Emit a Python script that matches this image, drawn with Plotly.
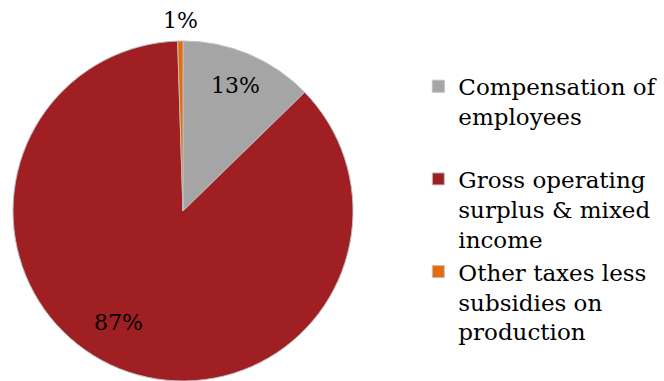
import math
import plotly.graph_objects as go

# Shares of GDP by income component (percent)
categories = [
    "Compensation of<br>employees<br> ",
    "Gross operating<br>surplus & mixed<br>income",
    "Other taxes less<br>subsidies on<br>production",
]
shares = [12.7, 86.8, 0.5]
colors = ["#A5A5A5", "#A01F22", "#E46C0A"]

W, H = 664, 381
FONT = "DejaVu Serif"

# Pie geometry in pixels
cx, cy, R = 183, 211, 170

fig = go.Figure(
    go.Pie(
        labels=categories,
        values=shares,
        sort=False,
        direction="clockwise",
        rotation=0,
        textinfo="none",
        hoverinfo="label+percent",
        marker=dict(colors=colors, line=dict(color="#BEBEBE", width=1)),
        domain=dict(x=[(cx - R) / W, (cx + R) / W],
                    y=[(H - cy - R) / H, (H - cy + R) / H]),
        showlegend=True,
    )
)

# Percentage labels placed along each slice's bisector
label_radius = [0.80, 0.76, 1.12]
label_shift_deg = [0, 8, 0]
total = sum(shares)
cum = 0.0
annotations = []
for v, rf, shift in zip(shares, label_radius, label_shift_deg):
    mid = (cum + v / 2) / total * 360 + shift
    cum += v
    a = math.radians(mid)
    px = cx + rf * R * math.sin(a)
    py = cy - rf * R * math.cos(a)
    pct = int(v / total * 100 + 0.5)
    annotations.append(dict(
        x=px / W, y=1 - py / H, xref="paper", yref="paper",
        text=f"{pct}%", showarrow=False,
        font=dict(family=FONT, size=22, color="#000000"),
        xanchor="center", yanchor="middle",
    ))

fig.update_layout(
    width=W, height=H,
    margin=dict(l=0, r=0, t=0, b=0, autoexpand=False),
    paper_bgcolor="white",
    plot_bgcolor="white",
    annotations=annotations,
    legend=dict(
        x=0.63, y=0.83, xanchor="left", yanchor="top",
        valign="top",
        font=dict(family=FONT, size=23, color="#000000"),
        itemclick=False, itemdoubleclick=False,
        tracegroupgap=0,
    ),
)

fig.write_html("out.html")
